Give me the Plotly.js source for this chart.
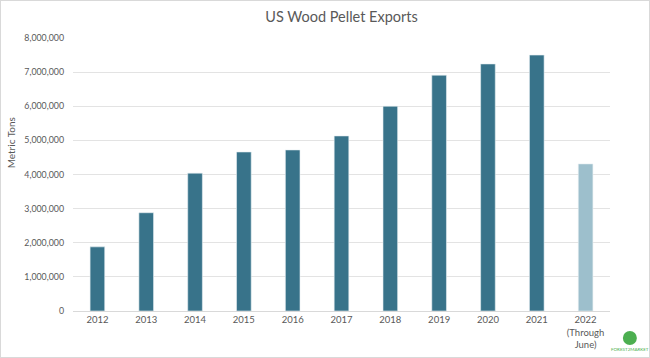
<!DOCTYPE html>
<html><head><meta charset="utf-8">
<script src="https://cdn.plot.ly/plotly-3.0.1.min.js"></script>
<style>
html,body{margin:0;padding:0;background:#fff;}
#wrap{width:650px;height:358px;box-sizing:border-box;border:1px solid #d9d9d9;}
#chart{width:648px;height:356px;}
</style></head>
<body><div id="wrap"><div id="chart"></div></div>
<script>
const years = ["2012","2013","2014","2015","2016","2017","2018","2019","2020","2021","2022<br>(Through<br>June)"];
const exportsTons = [1880000,2880000,4040000,4660000,4720000,5130000,6000000,6910000,7240000,7500000,4310000];
const barColors = ["#38738a","#38738a","#38738a","#38738a","#38738a","#38738a","#38738a","#38738a","#38738a","#38738a","#9dbfcc"];
const yTicks = [0,1000000,2000000,3000000,4000000,5000000,6000000,7000000,8000000];
const yTickText = ["0","1,000,000","2,000,000","3,000,000","4,000,000","5,000,000","6,000,000","7,000,000","8,000,000"];

const font = "Lato, 'Open Sans', sans-serif";
Plotly.newPlot("chart", [{
  type: "bar",
  x: years,
  y: exportsTons,
  marker: {color: barColors, line: {color: "#e6eef2", width: 0.6}},
  hoverinfo: "x+y"
}], {
  width: 648, height: 356,
  margin: {l: 72, r: 39, t: 37, b: 46},
  paper_bgcolor: "#fff", plot_bgcolor: "#fff",
  bargap: 0.7,
  showlegend: false,
  title: {text: "US Wood Pellet Exports", x: 0.5, xref: "paper", y: 0.955, yanchor: "middle",
          font: {family: font, size: 14.5, color: "#595959"}},
  xaxis: {
    type: "category",
    tickfont: {family: font, size: 9.5, color: "#595959"},
    showgrid: false, zeroline: false, showline: true, linecolor: "#d9d9d9", linewidth: 1,
    ticks: "", fixedrange: true
  },
  yaxis: {
    range: [0, 8000000], tickvals: yTicks, ticktext: yTickText,
    tickfont: {family: font, size: 8.8, color: "#595959"},
    showgrid: true, gridcolor: "#e3e3e3", gridwidth: 1, zeroline: false,
    ticks: "", ticklabelstandoff: 8, fixedrange: true
  },
  annotations: [
    {text: "Metric Tons", xref: "paper", yref: "paper", x: -0.115, y: 0.615, textangle: -90,
     showarrow: false, font: {family: font, size: 10, color: "#595959"}, xanchor: "center", yanchor: "middle"},
    {text: "FOREST2MARKET", xref: "paper", yref: "paper", x: 1.037, y: -0.14, showarrow: false,
     font: {family: font, size: 4.5, color: "#4caf50"}, xanchor: "center", yanchor: "middle"}
  ],
  shapes: [
    {type: "circle", xref: "paper", yref: "paper", x0: 1.024, x1: 1.05, y0: -0.125, y1: -0.073,
     fillcolor: "#4caf50", line: {width: 0}}
  ]
}, {displayModeBar: false, staticPlot: true});
</script></body></html>
